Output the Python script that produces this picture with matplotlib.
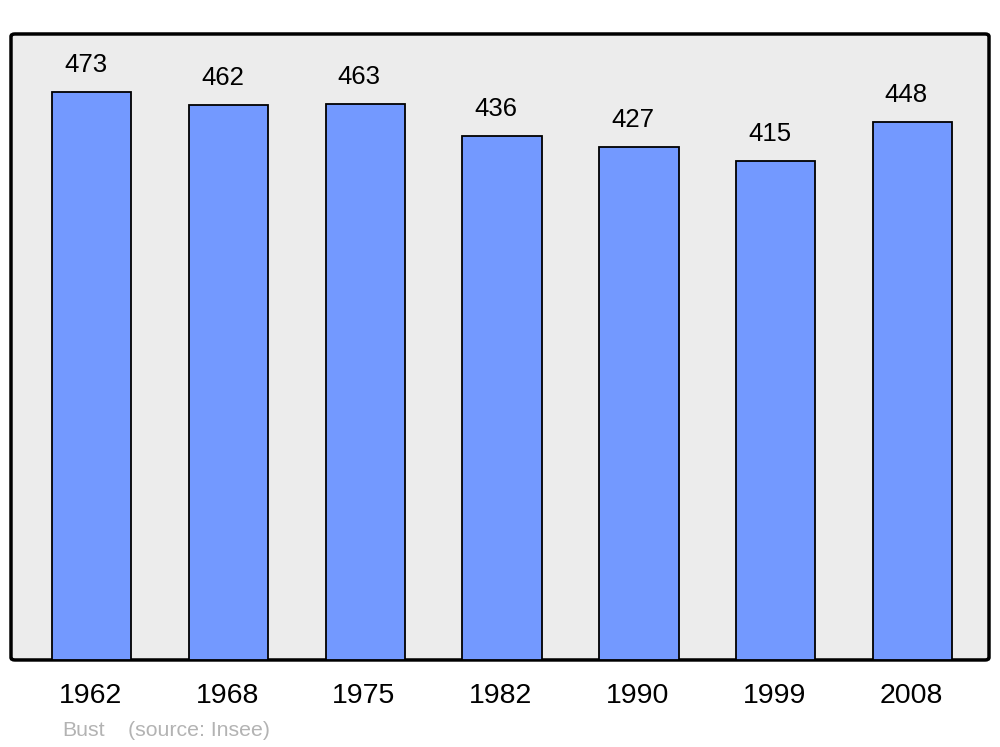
import matplotlib.pyplot as plt
from matplotlib.patches import FancyBboxPatch
from matplotlib import transforms

years = ['1962', '1968', '1975', '1982', '1990', '1999', '2008']
population = [473, 462, 463, 436, 427, 415, 448]
commune = 'Bust'
source = '(source: Insee)'

plt.rcParams['font.family'] = ['Liberation Sans', 'DejaVu Sans']

fig = plt.figure(figsize=(10, 7.47), dpi=100)
ax = fig.add_axes([0.011, 0.1165, 0.978, 0.838])
ax.set_facecolor('none')
for s in ax.spines.values():
    s.set_visible(False)

# rounded frame
frame = FancyBboxPatch((0, 0), 1, 1, boxstyle='round,pad=0,rounding_size=0.004',
                       transform=ax.transAxes, facecolor='#ececec',
                       edgecolor='black', linewidth=2.5, zorder=0, clip_on=False)
ax.add_patch(frame)

x = range(len(years))
ax.bar(x, population, width=0.58, color='#7399ff', edgecolor='black',
       linewidth=1.3, zorder=2)

for i, v in enumerate(population):
    ax.annotate(str(v), (i, v), xytext=(-4.3, 19.5), textcoords='offset points',
                ha='center', va='center', fontsize=18.5)

trans = transforms.blended_transform_factory(ax.transData, ax.transAxes)
for i, y in enumerate(years):
    ax.text(i - 0.01, -0.0575, y, transform=trans, ha='center', va='center',
            fontsize=20.5)

ax.set_xlim(-0.59, 6.56)
ax.set_ylim(0, 521)
ax.set_xticks([])
ax.set_yticks([])

fig.text(0.062, 0.0215, commune, color='#b3b3b3', fontsize=15.3, va='center')
fig.text(0.128, 0.0215, source, color='#b3b3b3', fontsize=15.3, va='center')

fig.savefig('out.png', dpi=100)
